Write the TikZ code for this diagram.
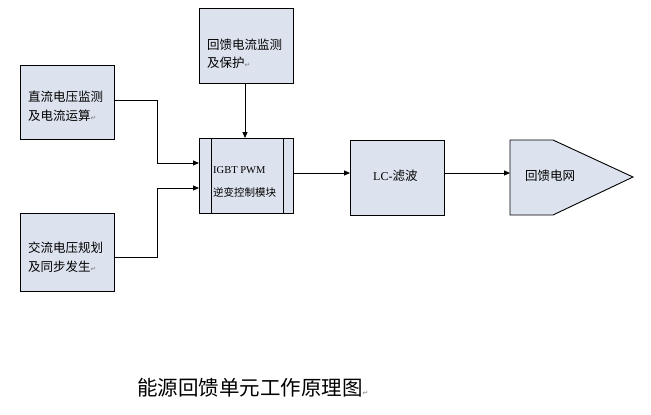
\documentclass[tikz,border=0pt]{standalone}
\usepackage{fontspec}
\setmainfont{Liberation Serif}
\newfontfamily\cjk{Noto Sans CJK SC}
\newfontfamily\dvs{DejaVu Sans}
\usetikzlibrary{arrows.meta}
\definecolor{boxfill}{HTML}{DDE3EE}
\tikzset{
  blk/.style={draw=black, line width=0.9pt, fill=boxfill},
  conn/.style={draw=black, line width=0.8pt},
  arr/.style={conn, -{Triangle[length=6pt,width=5pt]}},
  lbl/.style={anchor=west, inner sep=0pt, font=\cjk\fontsize{12.5}{14}\selectfont}
}
\newcommand{\pmark}{{\color{gray}\dvs\fontsize{7}{8}\selectfont ↵}}
\begin{document}
\begin{tikzpicture}[x=1pt,y=-1pt]
\useasboundingbox (0,0) rectangle (651,415);
% boxes
\path[blk] (199,8) rectangle (293,83);
\coordinate (topS) at (245,83);
\path[blk] (20,65) rectangle (114,139);
\coordinate (aE) at (114,100);
\path[blk] (20,213) rectangle (114,291);
\coordinate (bE) at (114,257);
\path[blk] (199,138) rectangle (293,213);
\draw[line width=0.8pt] (211,138) -- (211,213) (283,138) -- (283,213);
\coordinate (igN) at (245,138);
\coordinate (igW1) at (199,163);
\coordinate (igW2) at (199,188);
\coordinate (igE) at (293,173);
\path[blk] (350,140) rectangle (444,215);
\coordinate (lcW) at (350,173);
\coordinate (lcE) at (444,173);
\path[blk] (510,140) -- (553,140) -- (633,177) -- (553,215) -- (510,215) -- cycle;
\coordinate (gW) at (510,173);
% labels
\node[lbl] (t1) at (207,45) {回馈电流监测};
\node[lbl] (t2) at (207,63) {及保护\pmark};
\node[lbl] (a1) at (28,97) {直流电压监测};
\node[lbl] (a2) at (28,116) {及电流运算\pmark};
\node[lbl] (b1) at (28,248) {交流电压规划};
\node[lbl] (b2) at (28,267) {及同步发生\pmark};
\node[lbl, font=\fontsize{10.5}{12}\selectfont] (i1) at (213,170) {IGBT PWM};
\node[lbl, font=\cjk\fontsize{10.5}{12}\selectfont] (i2) at (213,192) {逆变控制模块};
\node[lbl] (lc) at (373,176) {{\fontsize{12}{14}\selectfont\rmfamily LC-}滤波};
\node[lbl] (gr) at (525,176) {回馈电网};
\node[lbl, font=\cjk\fontsize{20.5}{22}\selectfont] (title) at (137,388) {能源回馈单元工作原理图\pmark};
% connectors
\draw[arr] (topS) -- (igN);
\draw[arr] (aE) -- (157,100) -- (157,163) -- (igW1);
\draw[arr] (bE) -- (157,257) -- (157,188) -- (igW2);
\draw[arr] (igE) -- (lcW);
\draw[arr] (lcE) -- (gW);
\end{tikzpicture}
\end{document}
